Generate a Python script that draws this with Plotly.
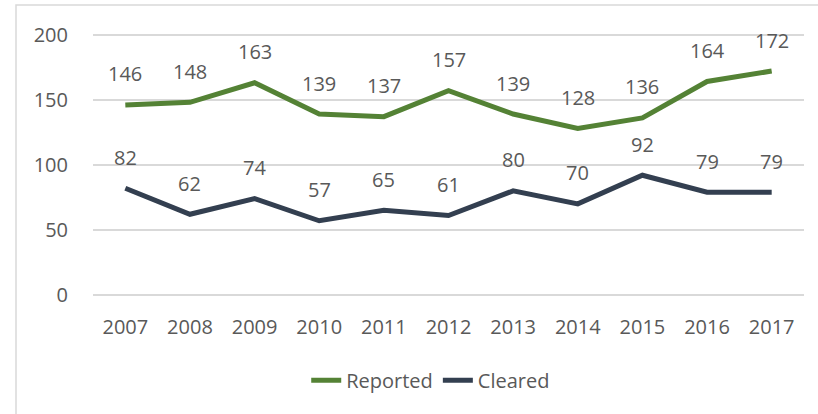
import plotly.graph_objects as go

years = ["2007", "2008", "2009", "2010", "2011", "2012", "2013", "2014", "2015", "2016", "2017"]
reported = [146, 148, 163, 139, 137, 157, 139, 128, 136, 164, 172]
cleared = [82, 62, 74, 57, 65, 61, 80, 70, 92, 79, 79]

green = "#548235"
navy = "#333F50"
grey_text = "#595959"
grid = "#D9D9D9"
font_family = "Open Sans, Noto Sans, sans-serif"

fig = go.Figure()
fig.add_trace(go.Scatter(x=years, y=reported, name="Reported", mode="lines",
                         line=dict(color=green, width=5)))
fig.add_trace(go.Scatter(x=years, y=cleared, name="Cleared", mode="lines",
                         line=dict(color=navy, width=5)))

# data labels above each point (category index used as x position)
for series in (reported, cleared):
    for i, v in enumerate(series):
        fig.add_annotation(x=i, y=v, text=str(v), showarrow=False, yshift=31,
                           font=dict(size=20, color=grey_text, family=font_family))

# outer chart border
fig.add_shape(type="rect", xref="paper", yref="paper",
              x0=-77 / 711, x1=1.2, y0=-0.5, y1=1 + 27 / 263,
              line=dict(color=grid, width=1.5), layer="below")

fig.update_layout(
    width=818, height=414,
    margin=dict(l=93, r=14, t=32, b=119),
    plot_bgcolor="white", paper_bgcolor="white",
    font=dict(family=font_family, size=20, color=grey_text),
    showlegend=True,
    legend=dict(orientation="h", x=0.475, xanchor="center", y=-0.25, yanchor="top",
                font=dict(size=20, color=grey_text), traceorder="normal"),
    xaxis=dict(type="category", range=[-0.5, 10.5], showgrid=False, showline=False,
               ticks="outside", ticklen=14, tickcolor="rgba(0,0,0,0)",
               tickfont=dict(size=20, color=grey_text)),
    yaxis=dict(range=[0, 202], tickvals=[0, 50, 100, 150, 200], showgrid=True,
               gridcolor=grid, gridwidth=1.5, zeroline=True, zerolinecolor=grid,
               zerolinewidth=1.5, ticks="outside", ticklen=20,
               tickcolor="rgba(0,0,0,0)", tickfont=dict(size=20, color=grey_text)),
)

fig.write_html("out.html", config={"displayModeBar": False},
               post_script="document.body.style.margin='0';")
